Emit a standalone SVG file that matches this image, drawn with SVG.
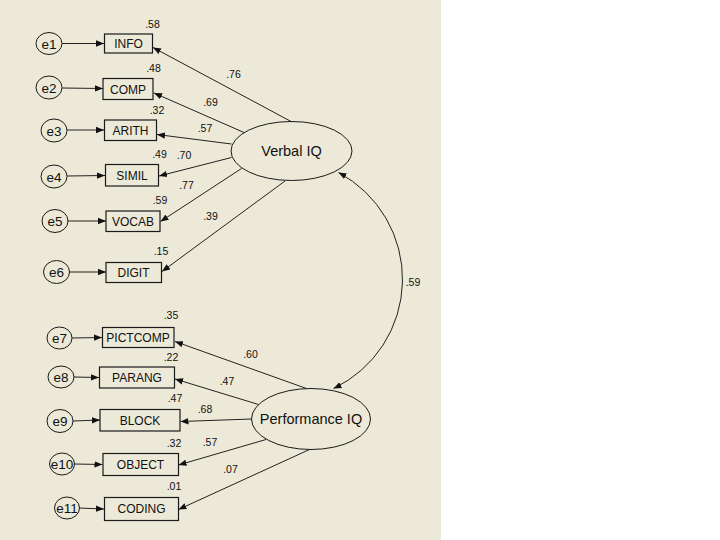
<svg xmlns="http://www.w3.org/2000/svg" width="720" height="540" viewBox="0 0 720 540">
<style>
.obs{fill:none;stroke:#1a1a1a;stroke-width:1.2}
.lat{fill:none;stroke:#1a1a1a;stroke-width:1}
.t{font-family:"Liberation Sans",Arial,sans-serif;fill:#111;text-anchor:middle}
.box{font-size:12px}
.err{font-size:13.5px}
.big{font-size:14.5px}
.c{font-size:10.5px}
.ln{fill:none;stroke:#222;stroke-width:1}
</style>
<defs>
<marker id="ah" viewBox="0 0 10 10" refX="10" refY="5" markerWidth="8" markerHeight="8" markerUnits="userSpaceOnUse" orient="auto">
<path d="M0,1 L10,5 L0,9 z" fill="#111"/>
</marker>
<marker id="ahs" viewBox="0 0 10 10" refX="0" refY="5" markerWidth="8" markerHeight="8" markerUnits="userSpaceOnUse" orient="auto">
<path d="M10,1 L0,5 L10,9 z" fill="#111"/>
</marker>
</defs>
<rect x="0" y="0" width="441" height="540" fill="#ECE9D8"/>
<rect x="441" y="0" width="279" height="540" fill="#FFFFFF"/>

<g id="connectors">
<line class="ln" x1="62" y1="43.5" x2="104" y2="43.5" marker-end="url(#ah)"/>
<line class="ln" x1="62" y1="88" x2="103" y2="88.5" marker-end="url(#ah)"/>
<line class="ln" x1="67" y1="130" x2="104" y2="130" marker-end="url(#ah)"/>
<line class="ln" x1="67" y1="176" x2="105" y2="175.5" marker-end="url(#ah)"/>
<line class="ln" x1="68" y1="221" x2="106" y2="221" marker-end="url(#ah)"/>
<line class="ln" x1="69" y1="272" x2="106" y2="272" marker-end="url(#ah)"/>
<line class="ln" x1="72" y1="338" x2="102" y2="337.5" marker-end="url(#ah)"/>
<line class="ln" x1="74" y1="377" x2="99" y2="377.5" marker-end="url(#ah)"/>
<line class="ln" x1="73" y1="421" x2="100" y2="420" marker-end="url(#ah)"/>
<line class="ln" x1="74" y1="464" x2="102.5" y2="464.5" marker-end="url(#ah)"/>
<line class="ln" x1="79" y1="508" x2="104" y2="509" marker-end="url(#ah)"/>

<line class="ln" x1="292" y1="122" x2="153" y2="47.5" marker-end="url(#ah)"/>
<line class="ln" x1="244" y1="132.5" x2="154" y2="93" marker-end="url(#ah)"/>
<line class="ln" x1="231.5" y1="144" x2="157" y2="134.5" marker-end="url(#ah)"/>
<line class="ln" x1="231.5" y1="157.5" x2="159" y2="176" marker-end="url(#ah)"/>
<line class="ln" x1="241.5" y1="168.5" x2="160.5" y2="221.5" marker-end="url(#ah)"/>
<line class="ln" x1="285" y1="181" x2="162" y2="271.5" marker-end="url(#ah)"/>

<line class="ln" x1="306.5" y1="388.5" x2="175" y2="341.5" marker-end="url(#ah)"/>
<line class="ln" x1="258.5" y1="404.5" x2="175" y2="379" marker-end="url(#ah)"/>
<line class="ln" x1="251.5" y1="419" x2="180.5" y2="421.5" marker-end="url(#ah)"/>
<line class="ln" x1="266" y1="439.5" x2="178.5" y2="465" marker-end="url(#ah)"/>
<line class="ln" x1="309.5" y1="449.5" x2="178.5" y2="509.5" marker-end="url(#ah)"/>

<path class="ln" d="M338.5,172.5 A121,121 0 0 1 333.5,388.5" marker-start="url(#ahs)" marker-end="url(#ah)"/>
</g>

<g id="e1"><ellipse class="lat" cx="49" cy="43.5" rx="13" ry="11"/><text class="t err" x="49" y="48.5">e1</text></g>
<g id="e2"><ellipse class="lat" cx="49" cy="87.5" rx="13" ry="11.5"/><text class="t err" x="49" y="92.5">e2</text></g>
<g id="e3"><ellipse class="lat" cx="54" cy="130.5" rx="13" ry="11.5"/><text class="t err" x="54" y="135.5">e3</text></g>
<g id="e4"><ellipse class="lat" cx="54" cy="176.5" rx="13" ry="11.5"/><text class="t err" x="54" y="181.5">e4</text></g>
<g id="e5"><ellipse class="lat" cx="55" cy="221" rx="13" ry="11.5"/><text class="t err" x="55" y="226">e5</text></g>
<g id="e6"><ellipse class="lat" cx="56.5" cy="272" rx="13" ry="11.5"/><text class="t err" x="56.5" y="277">e6</text></g>
<g id="e7"><ellipse class="lat" cx="59.5" cy="338" rx="12.5" ry="11"/><text class="t err" x="59.5" y="343">e7</text></g>
<g id="e8"><ellipse class="lat" cx="61" cy="377" rx="13" ry="11"/><text class="t err" x="61" y="382">e8</text></g>
<g id="e9"><ellipse class="lat" cx="60" cy="421" rx="13" ry="11.5"/><text class="t err" x="60" y="426">e9</text></g>
<g id="e10"><ellipse class="lat" cx="62" cy="464" rx="12.5" ry="11"/><text class="t err" x="62" y="469">e10</text></g>
<g id="e11"><ellipse class="lat" cx="67" cy="508" rx="12.5" ry="11"/><text class="t err" x="67" y="513">e11</text></g>

<g id="INFO"><rect class="obs" x="104.5" y="34" width="48" height="19"/><text class="t box" x="128.5" y="48">INFO</text><text class="t c" x="152.5" y="28">.58</text></g>
<g id="COMP"><rect class="obs" x="103" y="78.5" width="50" height="21"/><text class="t box" x="128" y="93.5">COMP</text><text class="t c" x="153.5" y="72">.48</text></g>
<g id="ARITH"><rect class="obs" x="104.5" y="120" width="52" height="20.5"/><text class="t box" x="130.5" y="134.5">ARITH</text><text class="t c" x="157" y="114">.32</text></g>
<g id="SIMIL"><rect class="obs" x="105.5" y="164.5" width="53" height="21.5"/><text class="t box" x="132" y="179.5">SIMIL</text><text class="t c" x="159.5" y="158">.49</text></g>
<g id="VOCAB"><rect class="obs" x="106" y="211" width="54" height="20.5"/><text class="t box" x="133" y="225.5">VOCAB</text><text class="t c" x="160" y="204">.59</text></g>
<g id="DIGIT"><rect class="obs" x="106" y="262.5" width="55.5" height="20"/><text class="t box" x="133.5" y="277">DIGIT</text><text class="t c" x="161" y="254.5">.15</text></g>

<g id="PICTCOMP"><rect class="obs" x="102.5" y="327.5" width="71.5" height="20"/><text class="t box" x="138" y="342">PICTCOMP</text><text class="t c" x="171" y="319">.35</text></g>
<g id="PARANG"><rect class="obs" x="99.5" y="367" width="75" height="21"/><text class="t box" x="137" y="382">PARANG</text><text class="t c" x="171" y="360.5">.22</text></g>
<g id="BLOCK"><rect class="obs" x="100" y="409.5" width="80" height="21.5"/><text class="t box" x="140" y="424.5">BLOCK</text><text class="t c" x="175" y="402">.47</text></g>
<g id="OBJECT"><rect class="obs" x="103" y="453.5" width="75.5" height="22"/><text class="t box" x="140.5" y="468.5">OBJECT</text><text class="t c" x="174" y="446.5">.32</text></g>
<g id="CODING"><rect class="obs" x="104.5" y="497.5" width="74" height="23"/><text class="t box" x="141.5" y="513">CODING</text><text class="t c" x="174" y="490">.01</text></g>

<g id="VerbalIQ"><ellipse class="lat" cx="291.5" cy="151" rx="60.5" ry="29.5"/><text class="t big" x="291.5" y="156">Verbal IQ</text></g>
<g id="PerformanceIQ"><ellipse class="lat" cx="311" cy="419" rx="59.5" ry="30.5"/><text class="t big" x="311" y="424">Performance IQ</text></g>

<g id="coef-labels">
<text class="t c" x="233.5" y="77.5">.76</text>
<text class="t c" x="210.5" y="105.5">.69</text>
<text class="t c" x="205" y="132">.57</text>
<text class="t c" x="184" y="159">.70</text>
<text class="t c" x="186.5" y="189">.77</text>
<text class="t c" x="210.5" y="220">.39</text>
<text class="t c" x="250.5" y="358">.60</text>
<text class="t c" x="227" y="384.5">.47</text>
<text class="t c" x="205" y="413">.68</text>
<text class="t c" x="210" y="445.5">.57</text>
<text class="t c" x="230.5" y="473">.07</text>
<text class="t c" x="413" y="286">.59</text>
</g>
</svg>
